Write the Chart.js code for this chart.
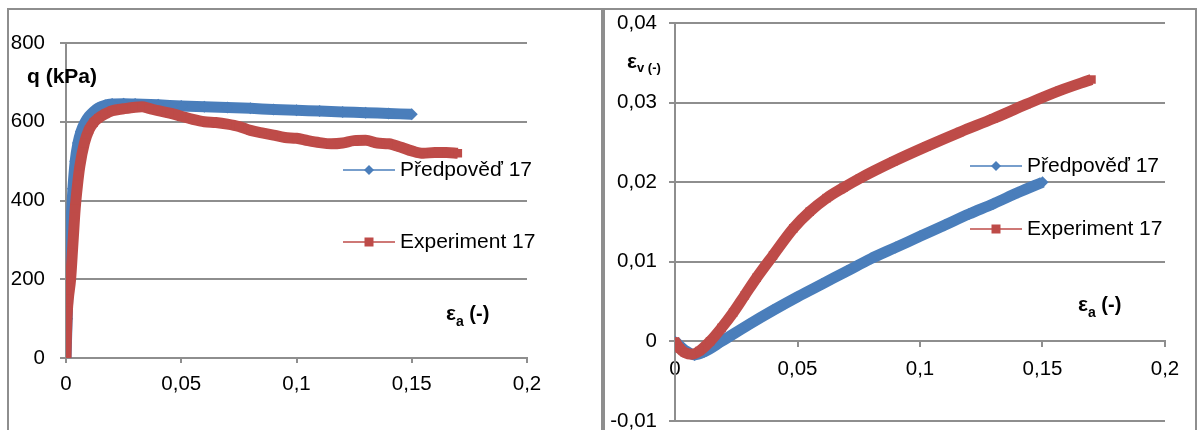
<!DOCTYPE html>
<html>
<head>
<meta charset="utf-8">
<script src="https://cdn.jsdelivr.net/npm/chart.js@4.4.1/dist/chart.umd.min.js"></script>
<style>
  html, body { margin: 0; padding: 0; overflow: hidden; background: #fff; }
  body { width: 1197px; height: 430px; position: relative; }
  .panel {
    position: absolute;
    top: 8px;
    border: 2px solid #8e8e8e;
    border-bottom: none;
    height: 440px;
  }
  #left-panel { left: 7px; width: 592px; }
  #right-panel { left: 603px; width: 590px; }
  canvas { display: block; }
</style>
</head>
<body>
<div class="panel" id="left-panel"><canvas id="qChart" width="592" height="440"></canvas></div>
<div class="panel" id="right-panel"><canvas id="volChart" width="590" height="440"></canvas></div>

<script>
// left chart: q (kPa) vs axial strain
const strain_pred_q = [0, 0.0005, 0.001, 0.002, 0.003, 0.004, 0.0052, 0.0065, 0.0082, 0.01, 0.012, 0.014, 0.017, 0.02, 0.025, 0.03, 0.04, 0.05, 0.06, 0.07, 0.08, 0.09, 0.1, 0.11, 0.12, 0.13, 0.14, 0.15];
const q_pred = [0, 100, 200, 330, 430, 500, 546, 575, 598, 614, 626, 635, 642, 645, 646, 645, 643, 640, 638, 636, 634, 631, 629, 627, 625, 623, 621, 619];

const strain_exp_q = [0, 0.0002, 0.0006, 0.001, 0.002, 0.003, 0.004, 0.005, 0.006, 0.008, 0.01, 0.012, 0.014, 0.017, 0.02, 0.025, 0.03, 0.033, 0.036, 0.04, 0.045, 0.05, 0.055, 0.06, 0.065, 0.07, 0.075, 0.08, 0.085, 0.09, 0.095, 0.1, 0.105, 0.11, 0.115, 0.12, 0.125, 0.13, 0.135, 0.14, 0.145, 0.15, 0.155, 0.16, 0.165, 0.17];
const q_exp = [0, 60, 120, 150, 200, 290, 380, 440, 487, 546, 580, 598, 609, 620, 628, 633, 637, 638, 634, 628, 622, 614, 606, 600, 598, 594, 588, 578, 572, 566, 560, 558, 552, 547, 544, 546, 552, 553, 546, 544, 536, 526, 520, 522, 522, 520];

// right chart: volumetric strain vs axial strain
const strain_pred_v = [0, 0.004, 0.008, 0.012, 0.019, 0.03, 0.04, 0.05, 0.06, 0.07, 0.08, 0.09, 0.1, 0.11, 0.12, 0.13, 0.14, 0.15];
const vol_pred = [0, -0.0011, -0.0017, -0.0013, 0, 0.0021, 0.0039, 0.0056, 0.0072, 0.0088, 0.0104, 0.0118, 0.0132, 0.0146, 0.016, 0.0173, 0.0187, 0.02];

const strain_exp_v = [0, 0.002, 0.004, 0.007, 0.01, 0.0143, 0.019, 0.0237, 0.0285, 0.0333, 0.04, 0.0483, 0.055, 0.0619, 0.0687, 0.0755, 0.0891, 0.1027, 0.1163, 0.13, 0.1435, 0.157, 0.17];
const vol_exp = [0, -0.0009, -0.0014, -0.0016, -0.0012, 0, 0.0017, 0.0036, 0.0058, 0.008, 0.0108, 0.0142, 0.0163, 0.018, 0.0193, 0.0205, 0.0226, 0.0245, 0.0263, 0.028, 0.0298, 0.0315, 0.0329];

const series_names = ["Předpověď 17", "Experiment 17"];
const x_ticks = [0, 0.05, 0.1, 0.15, 0.2];

const BLUE = "#4a7ebb";
const RED = "#be4b48";
const GRID = "#8e8e8e";
const FONT = '"Liberation Sans", Arial, sans-serif';

let pairs = (xs, ys) => xs.map((x, i) => ({ x: x, y: ys[i] }));
let fmt = (v) => String(Number(v.toFixed(2))).replace(".", ",");

// axis titles and Excel-like legend, drawn on top of the chart
const notes = {
  id: "notes",
  afterDraw(chart, args, opts) {
    const ctx = chart.ctx;
    ctx.save();
    ctx.textBaseline = "middle";
    ctx.textAlign = "left";
    ctx.fillStyle = "#000";
    opts.titles.forEach((t) => {
      let x = t.x;
      t.parts.forEach((p) => {
        ctx.font = "bold " + p.size + "px " + FONT;
        ctx.fillText(p.text, x, t.y + (p.dy || 0));
        x += ctx.measureText(p.text).width;
      });
    });

    const lg = opts.legend;
    chart.data.datasets.forEach((ds, i) => {
      const y = lg.y + i * lg.gap;
      ctx.strokeStyle = ds.borderColor;
      ctx.lineWidth = 1.5;
      ctx.beginPath();
      ctx.moveTo(lg.x, y);
      ctx.lineTo(lg.x + 52, y);
      ctx.stroke();
      ctx.fillStyle = ds.borderColor;
      const cx = lg.x + 26;
      ctx.beginPath();
      if (ds.pointStyle === "rectRot") {
        ctx.moveTo(cx, y - 5);
        ctx.lineTo(cx + 5, y);
        ctx.lineTo(cx, y + 5);
        ctx.lineTo(cx - 5, y);
        ctx.closePath();
      } else {
        ctx.rect(cx - 4.5, y - 4.5, 9, 9);
      }
      ctx.fill();
      ctx.fillStyle = "#000";
      ctx.font = "21px " + FONT;
      ctx.fillText(ds.label, lg.x + 57, y);
    });
    ctx.restore();
  },
};

let make_sets = (px, py, ex, ey) => [
  {
    label: series_names[0],
    data: pairs(px, py),
    borderColor: BLUE,
    backgroundColor: BLUE,
    borderWidth: 11,
    pointStyle: "rectRot",
    pointRadius: 6,
    pointBorderWidth: 0,
    cubicInterpolationMode: "monotone",
    showLine: true,
    order: 1,
  },
  {
    label: series_names[1],
    data: pairs(ex, ey),
    borderColor: RED,
    backgroundColor: RED,
    borderWidth: 11,
    pointStyle: "rect",
    pointRadius: 6,
    pointBorderWidth: 0,
    cubicInterpolationMode: "monotone",
    showLine: true,
    order: 0,
  },
];

let tick_font = { family: FONT, size: 20.5 };

let x_scale = (pad, extra) =>
  Object.assign(
    {
      type: "linear",
      min: 0,
      max: 0.2,
      afterBuildTicks: (scale) => {
        scale.ticks = x_ticks.map((v) => ({ value: v }));
      },
      ticks: {
        font: tick_font,
        color: "#000",
        padding: pad,
        maxRotation: 0,
        callback: (v) => fmt(v),
      },
      grid: {
        drawOnChartArea: false,
        color: GRID,
        lineWidth: 2,
        tickLength: 5,
      },
      border: { color: GRID, width: 2 },
    },
    extra
  );

// fixed y axis width, and no extra room reserved for the end labels
let fix_y = (w) => (scale) => {
  scale.width = w;
  scale.paddingTop = 0;
  scale.paddingBottom = 0;
};

new Chart(document.getElementById("qChart"), {
  type: "scatter",
  data: { datasets: make_sets(strain_pred_q, q_pred, strain_exp_q, q_exp) },
  options: {
    responsive: false,
    animation: false,
    events: [],
    layout: { padding: { top: 33, right: 74, bottom: 0, left: 0 } },
    scales: {
      x: x_scale(9, {
        afterFit: (scale) => {
          scale.height = 92;
        },
      }),
      y: {
        min: 0,
        max: 800,
        ticks: {
          stepSize: 200,
          font: tick_font,
          color: "#000",
          padding: 15,
          callback: (v) => fmt(v),
        },
        grid: { color: GRID, lineWidth: 2, tickLength: 6 },
        border: { color: GRID, width: 2 },
        afterFit: fix_y(57),
      },
    },
    plugins: {
      legend: { display: false },
      tooltip: { enabled: false },
      notes: {
        titles: [
          { x: 18, y: 67, parts: [{ text: "q (kPa)", size: 21 }] },
          {
            x: 437,
            y: 304,
            parts: [
              { text: "ε", size: 21 },
              { text: "a", size: 14, dy: 8 },
              { text: " (-)", size: 20 },
            ],
          },
        ],
        legend: { x: 334, y: 160, gap: 72 },
      },
    },
  },
  plugins: [notes],
});

new Chart(document.getElementById("volChart"), {
  type: "scatter",
  data: { datasets: make_sets(strain_pred_v, vol_pred, strain_exp_v, vol_exp) },
  options: {
    responsive: false,
    animation: false,
    events: [],
    layout: { padding: { top: 13, right: 30, bottom: 29, left: 0 } },
    scales: {
      x: x_scale(11, {
        position: { y: 0 },
        afterFit: (scale) => {
          scale.height = 0;
        },
      }),
      y: {
        min: -0.01,
        max: 0.04,
        ticks: {
          stepSize: 0.01,
          font: tick_font,
          color: "#000",
          padding: 12,
          callback: (v) => fmt(v),
        },
        grid: { color: GRID, lineWidth: 2, tickLength: 6 },
        border: { color: GRID, width: 2 },
        afterFit: fix_y(70),
      },
    },
    plugins: {
      legend: { display: false },
      tooltip: { enabled: false },
      notes: {
        titles: [
          {
            x: 22,
            y: 52,
            parts: [
              { text: "ε", size: 21 },
              { text: "v (-)", size: 13, dy: 6 },
            ],
          },
          {
            x: 473,
            y: 295,
            parts: [
              { text: "ε", size: 21 },
              { text: "a", size: 14, dy: 8 },
              { text: " (-)", size: 20 },
            ],
          },
        ],
        legend: { x: 365, y: 156, gap: 63 },
      },
    },
  },
  plugins: [notes],
});
</script>
</body>
</html>
